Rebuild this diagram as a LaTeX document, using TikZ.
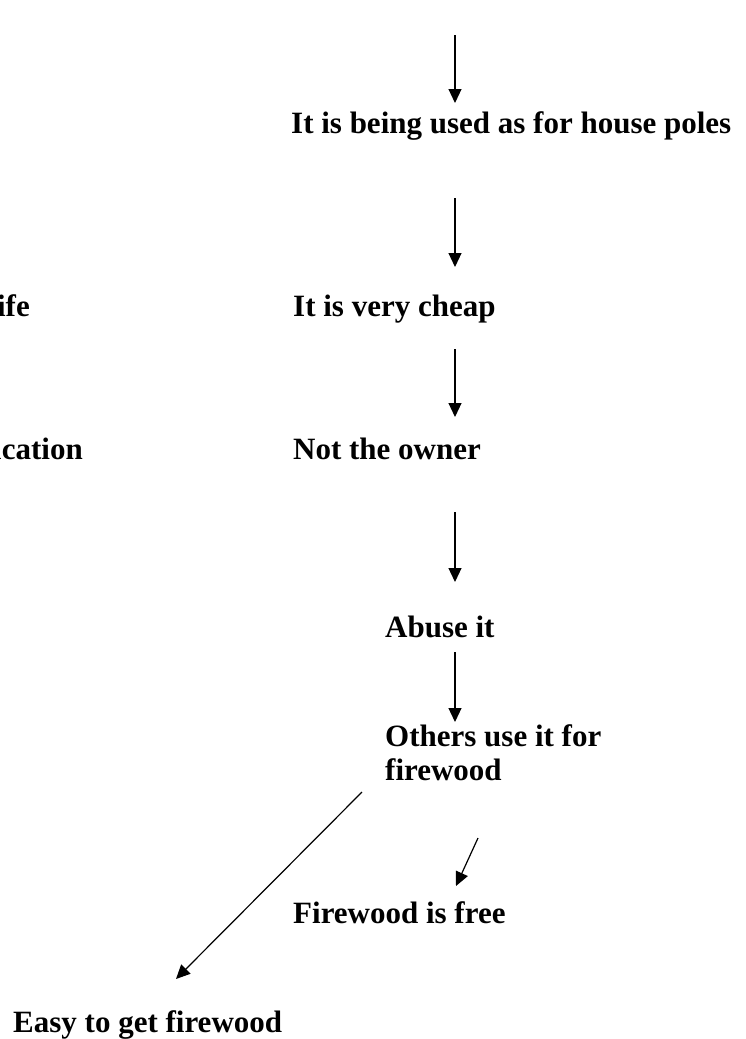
\documentclass[tikz,border=0pt]{standalone}
\usepackage{fontspec}
\setmainfont{Liberation Serif}
\usetikzlibrary{arrows.meta}
\begin{document}
\begin{tikzpicture}[x=1pt,y=-1pt,
  lbl/.style={font=\fontsize{31}{34}\selectfont\bfseries,inner sep=0pt,anchor=base west,align=left},
  arr/.style={line width=1.2pt,-{Triangle[length=14pt,width=13pt]}}]
\useasboundingbox (0,0) rectangle (745,1039);
\clip (0,0) rectangle (745,1039);
\coordinate (a1s) at (455,35);
\coordinate (a1e) at (455,103);
\draw[arr] (a1s) -- (a1e);
\node[lbl] (poles) at (291,133) {It is being used as for house poles};
\coordinate (a2s) at (455,198);
\coordinate (a2e) at (455,267);
\draw[arr] (a2s) -- (a2e);
\node[lbl,anchor=base east] (life) at (30,316) {life};
\node[lbl] (cheap) at (293,316) {It is very cheap};
\coordinate (a3s) at (455,349);
\coordinate (a3e) at (455,417);
\draw[arr] (a3s) -- (a3e);
\node[lbl,anchor=base east] (educ) at (83,459) {education};
\node[lbl] (owner) at (293,459) {Not the owner};
\coordinate (a4s) at (455,512);
\coordinate (a4e) at (455,582);
\draw[arr] (a4s) -- (a4e);
\node[lbl] (abuse) at (385,637) {Abuse it};
\coordinate (a5s) at (455,652);
\coordinate (a5e) at (455,722);
\draw[arr] (a5s) -- (a5e);
\node[lbl] (others) at (385,780) {Others use it for\\firewood};
\node[lbl] (free) at (293,923) {Firewood is free};
\node[lbl] (easy) at (13,1032) {Easy to get firewood};
\coordinate (d1s) at (362,792);
\coordinate (d1e) at (176,979);
\draw[arr] (d1s) -- (d1e);
\coordinate (d2s) at (478,838);
\coordinate (d2e) at (456,886);
\draw[arr] (d2s) -- (d2e);
\end{tikzpicture}
\end{document}
